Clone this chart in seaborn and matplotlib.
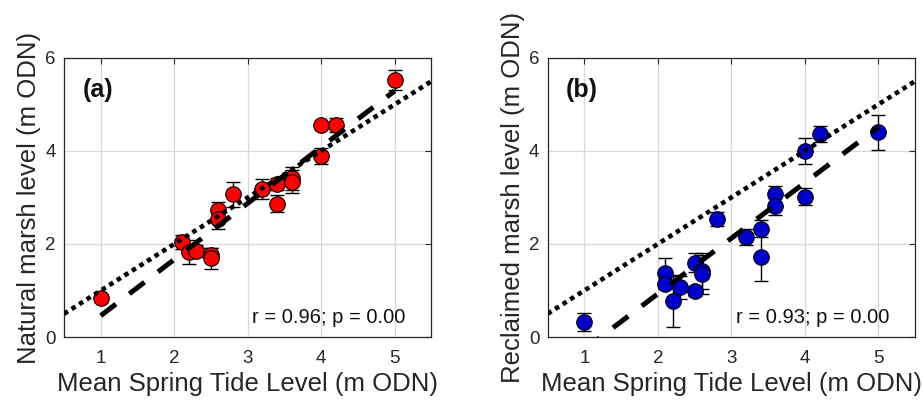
import numpy as np
import pandas as pd
import matplotlib
matplotlib.use("Agg")
import matplotlib.pyplot as plt
import seaborn as sns

# -------------------------
# Data
# -------------------------
mstl_nat = [1.0, 2.1, 2.2, 2.3, 2.5, 2.5, 2.6, 2.6, 2.8, 3.2, 3.4, 3.4, 3.6, 3.6, 4.0, 4.0, 4.2, 5.0]
level_nat = [0.84, 2.05, 1.83, 1.85, 1.76, 1.69, 2.73, 2.54, 3.07, 3.18, 3.29, 2.87, 3.41, 3.34, 3.89, 4.56, 4.55, 5.53]
err_nat = [0.08, 0.15, 0.25, 0.12, 0.15, 0.23, 0.18, 0.22, 0.27, 0.22, 0.12, 0.19, 0.25, 0.25, 0.17, 0.05, 0.15, 0.21]

mstl_rec = [1.0, 2.1, 2.1, 2.2, 2.3, 2.5, 2.5, 2.6, 2.6, 2.8, 3.2, 3.4, 3.4, 3.6, 3.6, 4.0, 4.0, 4.2, 5.0]
level_rec = [0.32, 1.37, 1.15, 0.77, 1.07, 0.98, 1.60, 1.42, 1.35, 2.53, 2.15, 2.33, 1.73, 3.07, 2.82, 4.00, 3.02, 4.37, 4.40]
err_rec = [0.20, 0.33, 0.10, 0.56, 0.25, 0.10, 0.20, 0.38, 0.42, 0.15, 0.17, 0.18, 0.53, 0.18, 0.20, 0.28, 0.18, 0.17, 0.38]

stats_nat = "r = 0.96; p = 0.00"
stats_rec = "r = 0.93; p = 0.00"

df_nat = pd.DataFrame({"mstl": mstl_nat, "level": level_nat, "err": err_nat})
df_rec = pd.DataFrame({"mstl": mstl_rec, "level": level_rec, "err": err_rec})

# -------------------------
# Style
# -------------------------
sns.set_style("white")
plt.rcParams["font.family"] = ["Liberation Sans", "DejaVu Sans"]

fig, axes = plt.subplots(1, 2, figsize=(9.24, 4.08), dpi=100)
fig.subplots_adjust(left=0.0693, right=0.9903, bottom=0.174, top=0.858, wspace=0.316)

panels = [
    (axes[0], df_nat, "#ff0000", "(a)", stats_nat, "Natural marsh level (m ODN)"),
    (axes[1], df_rec, "#0000cc", "(b)", stats_rec, "Reclaimed marsh level (m ODN)"),
]

for ax, df, col, tag, stats, ylab in panels:
    ax.grid(True, color="#d8d8d8", lw=0.9, zorder=0)
    ax.set_axisbelow(True)

    ax.errorbar(df["mstl"], df["level"], yerr=df["err"], fmt="none",
                ecolor="black", elinewidth=1.0, capsize=5, capthick=1.0, zorder=2)
    sns.scatterplot(data=df, x="mstl", y="level", ax=ax, color=col, s=125,
                    edgecolor="black", linewidth=0.8, zorder=3)

    # regression line (dashed) and 1:1 line (dotted)
    sns.regplot(data=df, x="mstl", y="level", ax=ax, scatter=False, ci=None,
                truncate=True,
                line_kws=dict(color="black", lw=3.6, dashes=(3.8, 3.4), zorder=4))
    ax.axline((1, 1), slope=1, color="black", lw=3.3, dashes=(1, 0.95), zorder=4)

    ax.set_xlim(0.5, 5.5)
    ax.set_ylim(0, 6)
    ax.set_xticks([1, 2, 3, 4, 5])
    ax.set_yticks([0, 2, 4, 6])
    ax.tick_params(direction="in", top=True, right=True, length=4, width=0.8,
                   labelsize=13.5, colors="#262626")
    ax.tick_params(axis="x", pad=9)
    ax.tick_params(axis="y", pad=6)
    for sp in ax.spines.values():
        sp.set_color("#262626")
        sp.set_linewidth(0.9)

    ax.set_xlabel("Mean Spring Tide Level (m ODN)", fontsize=18.5, color="#262626")
    ax.set_ylabel(ylab, fontsize=18.5, color="#262626", labelpad=3)

    ax.text(0.05, 0.885, tag, transform=ax.transAxes, fontsize=18,
            fontweight="bold", ha="left", va="center", color="#111111")
    ax.text(0.93, 0.07, stats, transform=ax.transAxes, fontsize=14.5,
            ha="right", va="center", color="#111111")

plt.savefig("out.png", dpi=100)
